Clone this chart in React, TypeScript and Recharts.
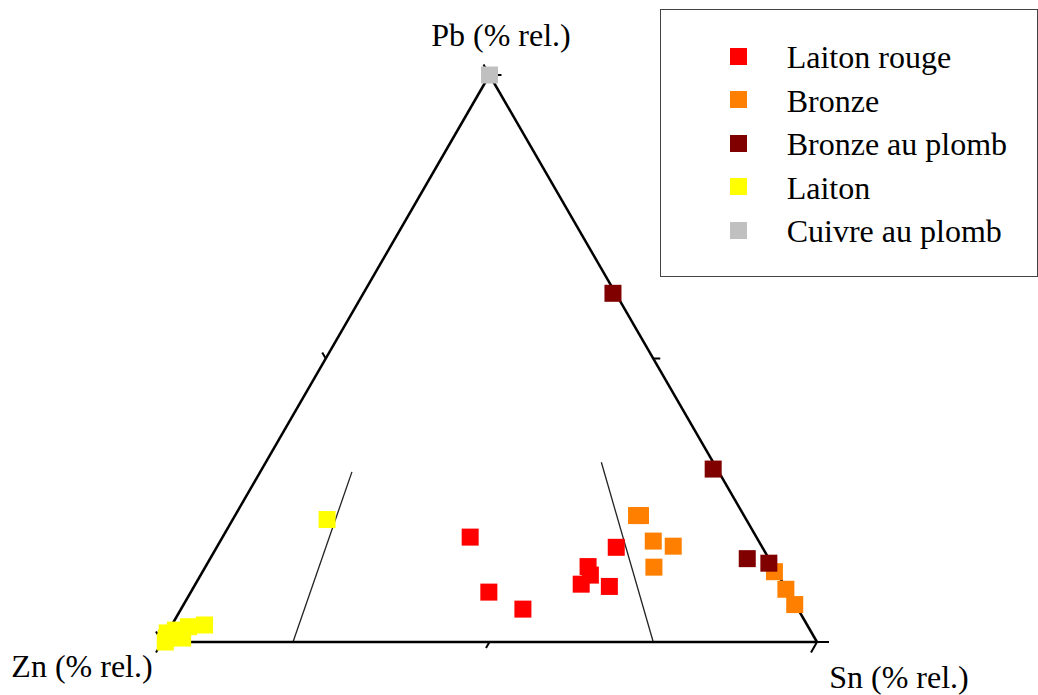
import {
  ScatterChart,
  Scatter,
  XAxis,
  YAxis,
  ReferenceLine,
  ReferenceDot,
  Legend,
} from 'recharts';

// compositions in % rel. : [Zn, Sn, Pb]
const laitonRouge = [
  [43.7, 37.8, 18.5],
  [45.7, 45.5, 8.8],
  [42.0, 52.2, 5.8],
  [28.3, 58.4, 13.3],
  [28.7, 59.5, 11.8],
  [30.9, 58.9, 10.2],
  [26.8, 63.4, 9.8],
  [22.3, 61.0, 16.7],
];
const bronze = [
  [16.4, 61.3, 22.3],
  [15.8, 61.9, 22.3],
  [16.1, 66.1, 17.8],
  [13.5, 69.6, 16.9],
  [18.3, 68.5, 13.2],
  [0.3, 87.3, 12.4],
  [0.1, 90.6, 9.3],
  [0.1, 93.3, 6.6],
];
const bronzeAuPlomb = [
  [0.4, 38.1, 61.5],
  [0.6, 68.9, 30.5],
  [3.3, 82.0, 14.7],
  [0.4, 85.7, 13.9],
];
const laiton = [
  [64.0, 14.4, 21.6],
  [92.0, 5.0, 3.0],
  [94.6, 2.7, 2.7],
  [96.9, 1.0, 2.1],
  [98.4, 0.0, 1.6],
  [99.0, 0.3, 0.7],
  [96.5, 2.8, 0.7],
  [99.5, 0.5, 0.0],
];
const cuivreAuPlomb = [[0.0, 0.0, 100.0]];

const seriesNames = ['Laiton rouge', 'Bronze', 'Bronze au plomb', 'Laiton', 'Cuivre au plomb'];
const seriesColors = ['#ff0000', '#ff8000', '#800000', '#ffff00', '#c0c0c0'];
const seriesData = [laitonRouge, bronze, bronzeAuPlomb, laiton, cuivreAuPlomb];

// guide lines: Sn share of (Zn + Sn), running up to a Pb level
const guideSnShare = [0.2, 0.75];
const guidePbTop = [0.3, 0.317];

const tickFractions = [0, 0.5, 1];
const axisNames = ['Zn (% rel.)', 'Sn (% rel.)', 'Pb (% rel.)'];

const FONT = "'Liberation Serif', 'Times New Roman', 'DejaVu Serif', serif";
const H = Math.sqrt(3) / 2;
const PX = 655; // plot width in px for 1 data unit

const toXY = (pts: number[][]) =>
  pts.map(([zn, sn, pb]) => {
    const s = zn + sn + pb;
    return { x: (sn + pb / 2) / s, y: (pb / s) * H };
  });

const ZN = { x: 0, y: 0 };
const SN = { x: 1, y: 0 };
const PB = { x: 0.5, y: H };

const Square = (color: string) => (props: any) => (
  <rect x={props.cx - 8.5} y={props.cy - 8.5} width={17} height={17} fill={color} />
);

const lerp = (a: any, b: any, t: number) => ({ x: a.x + (b.x - a.x) * t, y: a.y + (b.y - a.y) * t });

// ticks along each side, with the direction they point out
const buildTicks = () => {
  const sides = [
    { from: ZN, to: SN, dir: { x: -0.5, y: -H } },
    { from: SN, to: PB, dir: { x: 1, y: 0 } },
    { from: PB, to: ZN, dir: { x: -0.5, y: H } },
  ];
  const out: any[] = [];
  sides.forEach((s) => {
    tickFractions.forEach((f) => {
      const p = lerp(s.from, s.to, f);
      const len = (f === 0.5 ? 7 : 12) / PX;
      out.push([p, { x: p.x + s.dir.x * len, y: p.y + s.dir.y * len }]);
    });
  });
  return out;
};

const cornerLabel = (text: string, dx: number, dy: number) => (props: any) => {
  const vb = props.viewBox || { x: 0, y: 0, width: 0, height: 0 };
  return (
    <text
      x={vb.x + (vb.width || 0) / 2 + dx}
      y={vb.y + (vb.height || 0) / 2 + dy}
      textAnchor="middle"
      fontSize={32}
      style={{ fontFamily: FONT }}
      fill="#000"
    >
      {text}
    </text>
  );
};

const renderLegend = () => (
  <div
    style={{
      width: 376,
      height: 266,
      border: '1px solid #444',
      background: '#fff',
      position: 'relative',
      fontFamily: FONT,
    }}
  >
    {seriesNames.map((name, i) => (
      <div
        key={name}
        style={{ position: 'absolute', left: 69, top: 37.5 + i * 43.5, height: 17, display: 'flex', alignItems: 'center' }}
      >
        <span style={{ width: 17, height: 17, background: seriesColors[i], display: 'inline-block' }} />
        <span style={{ marginLeft: 39.7, fontSize: 32, lineHeight: '17px', whiteSpace: 'nowrap', position: 'relative', top: 1.5, color: '#000' }}>
          {name}
        </span>
      </div>
    ))}
  </div>
);

export default function App() {
  const ticks = buildTicks();
  return (
    <div style={{ position: 'absolute', left: 0, top: 0, width: 1038, height: 695, background: '#fff', fontFamily: FONT }}>
      <ScatterChart width={1038} height={695} margin={{ top: 75, right: 221, bottom: 53, left: 162 }}>
        <XAxis type="number" dataKey="x" domain={[0, 1]} hide />
        <YAxis type="number" dataKey="y" domain={[0, H]} hide />
        {seriesData.map((d, i) => (
          <Scatter
            key={seriesNames[i]}
            name={seriesNames[i]}
            data={toXY(d)}
            fill={seriesColors[i]}
            shape={Square(seriesColors[i])}
            isAnimationActive={false}
          />
        ))}
        {guideSnShare.map((share, i) => (
          <ReferenceLine
            key={'g' + i}
            segment={[
              lerp(ZN, SN, share),
              lerp(lerp(ZN, SN, share), PB, guidePbTop[i]),
            ]}
            stroke="#222"
            strokeWidth={1.3}
            ifOverflow="visible"
          />
        ))}
        <ReferenceLine segment={[ZN, SN]} stroke="#000" strokeWidth={2.5} ifOverflow="visible" />
        <ReferenceLine segment={[SN, PB]} stroke="#000" strokeWidth={2.5} ifOverflow="visible" />
        <ReferenceLine segment={[PB, ZN]} stroke="#000" strokeWidth={2.5} ifOverflow="visible" />
        {ticks.map((t, i) => (
          <ReferenceLine key={'t' + i} segment={t} stroke="#000" strokeWidth={2} ifOverflow="visible" />
        ))}
        <ReferenceDot x={PB.x} y={PB.y} r={0} ifOverflow="visible" label={cornerLabel(axisNames[2], 11.5, -29)} />
        <ReferenceDot x={ZN.x} y={ZN.y} r={0} ifOverflow="visible" label={cornerLabel(axisNames[0], -80, 35)} />
        <ReferenceDot x={SN.x} y={SN.y} r={0} ifOverflow="visible" label={cornerLabel(axisNames[1], 82, 46)} />
        <Legend
          layout="horizontal"
          verticalAlign="middle"
          align="center"
          content={renderLegend}
          wrapperStyle={{ left: 660, top: 9, width: 378, height: 268 }}
        />
      </ScatterChart>
    </div>
  );
}
